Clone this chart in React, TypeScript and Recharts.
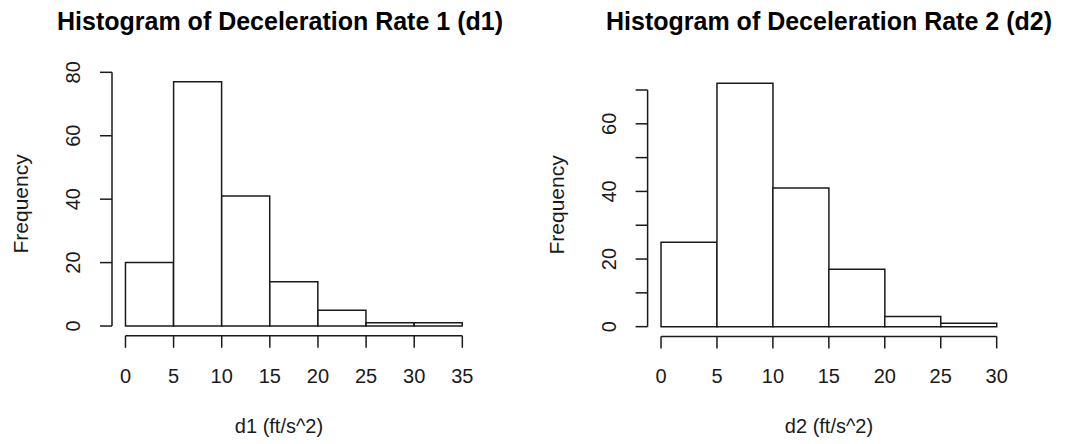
import React from 'react';
import { ComposedChart, Bar, XAxis, YAxis, ReferenceLine } from 'recharts';

// ---- data ----
const d1BinEdges = [0, 5, 10, 15, 20, 25, 30, 35];
const d1Counts = [20, 77, 41, 14, 5, 1, 1];
const d1YTicks = [0, 20, 40, 60, 80];
const d1YLabels = [0, 20, 40, 60, 80];

const d2BinEdges = [0, 5, 10, 15, 20, 25, 30];
const d2Counts = [25, 72, 41, 17, 3, 1];
const d2YTicks = [0, 10, 20, 30, 40, 50, 60, 70];
const d2YLabels = [0, 20, 40, 60];

const titles = ['Histogram of Deceleration Rate 1 (d1)', 'Histogram of Deceleration Rate 2 (d2)'];
const xLabels = ['d1 (ft/s^2)', 'd2 (ft/s^2)'];
const yLabel = 'Frequency';

const FONT = '"Liberation Sans", Arial, Helvetica, sans-serif';
const INK = '#1a1a1a';
const H = 444;
const YW = 60;
const XH = 100;

type PlotBox = { x0: number; x1: number; y0: number; y1: number };

function Panel(props: {
  edges: number[];
  counts: number[];
  yTicks: number[];
  yLabels: number[];
  title: string;
  xLabel: string;
  left: number;
  width: number;
  plot: PlotBox;
  titleX: number;
  xLabelX: number;
}) {
  const { edges, counts, yTicks, yLabels, title, xLabel, left, width, plot, titleX, xLabelX } = props;
  const data = counts.map((c, i) => ({ mid: (edges[i] + edges[i + 1]) / 2, count: c }));
  const xMin = edges[0];
  const xMax = edges[edges.length - 1];
  const xr = xMax - xMin;
  const xDomain: [number, number] = [xMin - 0.04 * xr, xMax + 0.04 * xr];
  const yMax = Math.max(...counts);
  const yDomain: [number, number] = [-0.04 * yMax, yMax * 1.04];

  const margin = {
    top: plot.y0,
    left: plot.x0 - YW,
    right: width - plot.x1,
    bottom: H - plot.y1 - XH,
  };

  const XTick = (p: any) => (
    <text
      x={p.x}
      y={p.y + 35}
      textAnchor="middle"
      fontSize={20}
      fontFamily={FONT}
      fill={INK}
    >
      {p.payload.value}
    </text>
  );

  const YTick = (p: any) => {
    if (!yLabels.includes(p.payload.value)) return <g />;
    const bx = p.x - 19.8;
    return (
      <text
        x={bx}
        y={p.y}
        transform={`rotate(-90 ${bx} ${p.y})`}
        textAnchor="middle"
        fontSize={20}
        fontFamily={FONT}
        fill={INK}
      >
        {p.payload.value}
      </text>
    );
  };

  const freqX = plot.x0 - 83.5;
  const freqY = (plot.y0 + plot.y1) / 2;

  return (
    <div style={{ position: 'absolute', left, top: 0, width, height: H }}>
      <ComposedChart
        width={width}
        height={H}
        data={data}
        margin={margin}
        barCategoryGap={0}
        barGap={0}
      >
        <XAxis
          xAxisId="x"
          type="number"
          dataKey="mid"
          domain={xDomain}
          allowDataOverflow
          ticks={edges}
          interval={0}
          axisLine={false}
          tickSize={12}
          tickMargin={0}
          tickLine={{ stroke: INK, strokeWidth: 1.5 }}
          tick={XTick}
          height={XH}
        />
        <YAxis
          yAxisId="y"
          type="number"
          domain={yDomain}
          allowDataOverflow
          ticks={yTicks}
          interval={0}
          axisLine={false}
          tickSize={12}
          tickMargin={0}
          tickLine={{ stroke: INK, strokeWidth: 1.5 }}
          tick={YTick}
          width={YW}
        />
        <Bar
          xAxisId="x"
          yAxisId="y"
          dataKey="count"
          fill="#ffffff"
          stroke={INK}
          strokeWidth={1.5}
          isAnimationActive={false}
        />
        <ReferenceLine
          xAxisId="x"
          yAxisId="y"
          segment={[
            { x: xMin, y: yDomain[0] },
            { x: xMax, y: yDomain[0] },
          ]}
          stroke={INK}
          strokeWidth={1.5}
          ifOverflow="visible"
        />
        <ReferenceLine
          xAxisId="x"
          yAxisId="y"
          segment={[
            { x: xDomain[0], y: yTicks[0] },
            { x: xDomain[0], y: yTicks[yTicks.length - 1] },
          ]}
          stroke={INK}
          strokeWidth={1.5}
          ifOverflow="visible"
        />
      </ComposedChart>
      <svg
        width={width}
        height={H}
        style={{ position: 'absolute', left: 0, top: 0, pointerEvents: 'none' }}
      >
        <text
          x={titleX}
          y={30}
          textAnchor="middle"
          fontSize={25}
          fontWeight="bold"
          fontFamily={FONT}
          fill="#000"
        >
          {title}
        </text>
        <text
          x={xLabelX}
          y={433}
          textAnchor="middle"
          fontSize={20}
          fontFamily={FONT}
          fill={INK}
        >
          {xLabel}
        </text>
        <text
          x={freqX}
          y={freqY}
          transform={`rotate(-90 ${freqX} ${freqY})`}
          textAnchor="middle"
          fontSize={21}
          fontFamily={FONT}
          fill={INK}
        >
          {yLabel}
        </text>
      </svg>
    </div>
  );
}

export default function App() {
  return (
    <div
      style={{
        position: 'absolute',
        left: 0,
        top: 0,
        width: 1065,
        height: H,
        background: '#fff',
        overflow: 'hidden',
      }}
    >
      <Panel
        edges={d1BinEdges}
        counts={d1Counts}
        yTicks={d1YTicks}
        yLabels={d1YLabels}
        title={titles[0]}
        xLabel={xLabels[0]}
        left={0}
        width={532}
        plot={{ x0: 112, x1: 475.8, y0: 72.05, y1: 335.8 }}
        titleX={280}
        xLabelX={279}
      />
      <Panel
        edges={d2BinEdges}
        counts={d2Counts}
        yTicks={d2YTicks}
        yLabels={d2YLabels}
        title={titles[1]}
        xLabel={xLabels[1]}
        left={532}
        width={533}
        plot={{ x0: 115.6, x1: 478.1, y0: 73.5, y1: 336.4 }}
        titleX={297}
        xLabelX={297}
      />
    </div>
  );
}
